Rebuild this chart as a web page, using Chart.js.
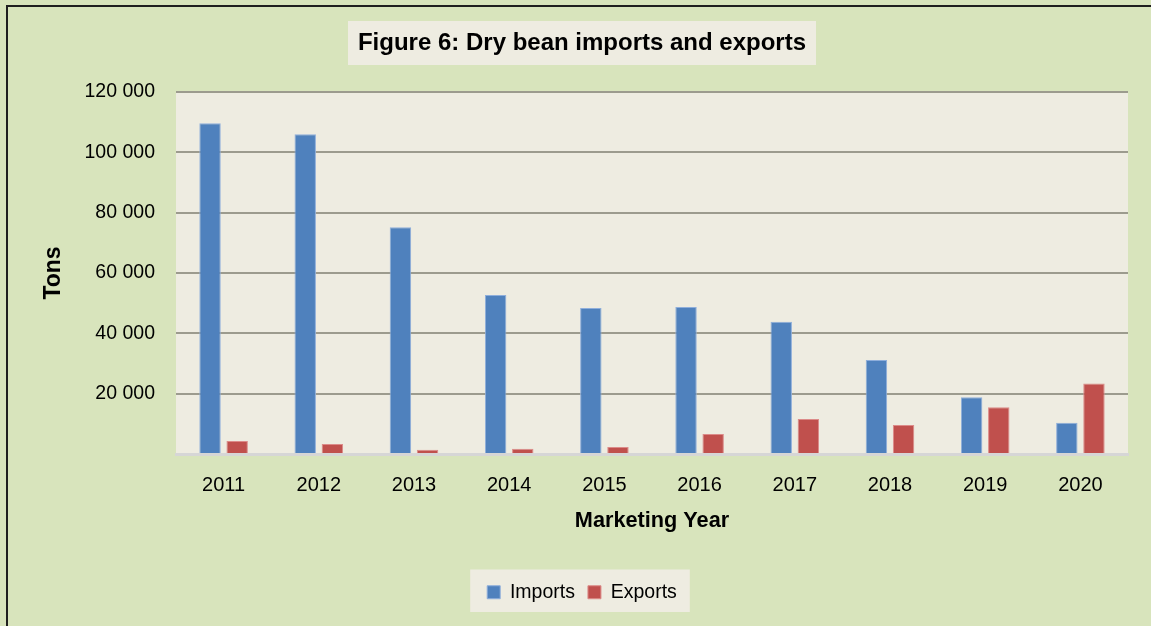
<!DOCTYPE html>
<html>
<head>
<meta charset="utf-8">
<style>
  html, body { margin: 0; padding: 0; background: #d8e4bc; }
  #wrap { width: 1151px; height: 626px; }
</style>
<script src="https://cdn.jsdelivr.net/npm/chart.js@4.4.1/dist/chart.umd.min.js"></script>
</head>
<body>
<div id="wrap"><canvas id="c" width="1151" height="626"></canvas></div>
<script>
const categories = ['2011', '2012', '2013', '2014', '2015', '2016', '2017', '2018', '2019', '2020'];
const importsTons = [109600, 106000, 75200, 52700, 48400, 48700, 43800, 31200, 18800, 10400];
const exportsTons = [4300, 3300, 1400, 1700, 2300, 6600, 11600, 9600, 15500, 23400];
const titleText = 'Figure 6: Dry bean imports and exports';
const xTitle = 'Marketing Year';
const yTitle = 'Tons';

const FONT = '"Liberation Sans", Arial, sans-serif';
Chart.defaults.font.family = FONT;
Chart.defaults.color = '#000';

const PLOT_BG = '#eeece1';
const OUTER_BG = '#d8e4bc';

const backdrop = {
  id: 'backdrop',
  beforeDraw(chart) {
    const ctx = chart.ctx;
    const W = chart.width, H = chart.height;
    ctx.save();
    ctx.fillStyle = OUTER_BG;
    ctx.fillRect(0, 0, W, H);
    // outer frame (left and top edges visible)
    ctx.fillStyle = '#1f1f1f';
    ctx.fillRect(6, 5, 2, H - 5);
    ctx.fillRect(6, 5, W - 6, 2);
    // plot area
    const a = chart.chartArea;
    ctx.fillStyle = PLOT_BG;
    ctx.fillRect(a.left, a.top, a.right - a.left, a.bottom - a.top);
    // title box
    const tb = chart.titleBlock;
    if (tb) {
      const f = Chart.helpers.toFont(tb.options.font);
      ctx.font = f.string;
      const w = ctx.measureText(titleText).width;
      const cx = (tb.left + tb.right) / 2;
      ctx.fillStyle = PLOT_BG;
      ctx.fillRect(Math.round(cx - w / 2 - 10), 21, Math.round(w + 20), 44);
    }
    // legend box
    const lg = chart.legend;
    if (lg && lg.legendHitBoxes && lg.legendHitBoxes.length) {
      const hb = lg.legendHitBoxes;
      const l = hb[0].left - 17;
      const last = hb[hb.length - 1];
      const r = last.left + last.width + 13;
      ctx.fillStyle = PLOT_BG;
      ctx.fillRect(l, lg.top, r - l, lg.bottom - lg.top);
    }
    ctx.restore();
  }
};

new Chart(document.getElementById('c'), {
  type: 'bar',
  data: {
    labels: categories,
    datasets: [
      {
        label: 'Imports',
        data: importsTons,
        backgroundColor: '#4f81bd',
        borderColor: '#8eaedb',
        borderWidth: 1,
        categoryPercentage: 0.57,
        barPercentage: 0.79
      },
      {
        label: 'Exports',
        data: exportsTons,
        backgroundColor: '#c0504d',
        borderColor: '#dc8b89',
        borderWidth: 1,
        categoryPercentage: 0.57,
        barPercentage: 0.79
      }
    ]
  },
  options: {
    responsive: false,
    animation: false,
    devicePixelRatio: 1,
    layout: { padding: { left: 36, right: 23, top: 0, bottom: 14 } },
    plugins: {
      title: {
        display: true,
        text: titleText,
        color: '#000',
        font: { size: 24, weight: 'bold', family: FONT },
        padding: { top: 28.6, bottom: 34.6 }
      },
      legend: {
        position: 'bottom',
        labels: {
          boxWidth: 13,
          boxHeight: 13,
          padding: 13,
          color: '#000',
          font: { size: 19.5, family: FONT }
        }
      },
      tooltip: { enabled: false }
    },
    scales: {
      x: {
        grid: { display: false, drawTicks: false },
        border: { display: true, color: '#d6d6d6', width: 3 },
        ticks: { padding: 19.5, color: '#000', font: { size: 20 } },
        title: {
          display: true,
          text: xTitle,
          color: '#000',
          font: { size: 21.7, weight: 'bold' },
          padding: { top: 0, bottom: 35.5 }
        },
        afterFit(scale) { scale.height = 115.5; }
      },
      y: {
        min: 0,
        max: 120000,
        ticks: {
          stepSize: 20000,
          padding: 21,
          color: '#000',
          font: { size: 19.5 },
          callback(v) { return v === 0 ? '' : v.toLocaleString('en-US').replace(/,/g, ' '); }
        },
        grid: {
          drawTicks: false,
          lineWidth: 2,
          color(ctx) { return ctx.tick && ctx.tick.value === 0 ? 'rgba(0,0,0,0)' : '#9c9b8e'; }
        },
        border: { display: false },
        title: {
          display: true,
          text: yTitle,
          color: '#000',
          font: { size: 23, weight: 'bold' },
          padding: { top: 4, bottom: 0 }
        },
        afterFit(scale) { scale.width = 140; }
      }
    }
  },
  plugins: [backdrop]
});
</script>
</body>
</html>
